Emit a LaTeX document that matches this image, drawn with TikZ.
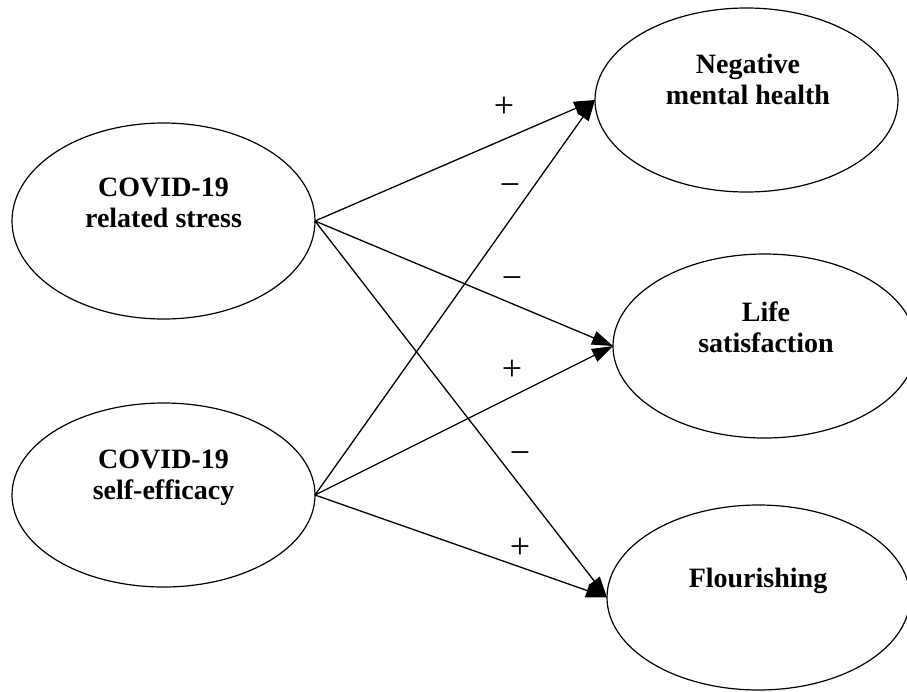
\documentclass[tikz,border=0pt]{standalone}
\usepackage{fontspec}
\setmainfont{Liberation Serif}
\usetikzlibrary{shapes.geometric,arrows.meta}
\begin{document}
\begin{tikzpicture}[x=1pt,y=-1pt,
  construct/.style={ellipse, draw, line width=1.2pt, minimum width=303pt,
    minimum height=184pt, inner sep=0pt, outer sep=0pt},
  ctext/.style={font=\fontsize{28}{31}\selectfont\bfseries, align=center, inner sep=0pt},
  link/.style={line width=1.3pt, -{Triangle[length=21pt,width=14pt]}},
  sign/.style={font=\fontsize{36}{36}\selectfont, inner sep=0pt}]
\useasboundingbox (0,0) rectangle (907,691);

% predictors
\node[construct, minimum height=196pt] (stress) at (163.5,221) {};
\node[construct] (efficacy) at (163.5,495) {};
% outcomes
\node[construct] (nmh) at (746.5,100) {};
\node[construct] (life) at (764.5,346) {};
\node[construct, minimum height=185pt] (flour) at (758.5,597.5) {};

% construct names, set in the upper part of each ellipse
\node[ctext] (stressT) at (163.5,202.5) {COVID-19\\related stress};
\node[ctext] (efficacyT) at (163.5,477.5) {COVID-19\\self-efficacy};
\node[ctext] (nmhT) at (748,79) {Negative\\mental health};
\node[ctext] (lifeT) at (766,327) {Life\\satisfaction};
\node[ctext] (flourT) at (758,580.5) {Flourishing};

% paths
\draw[link] (stress.east) -- (nmh.west);
\draw[link] (stress.east) -- (life.west);
\draw[link] (stress.east) -- (flour.west);
\draw[link] (efficacy.east) -- (nmh.west);
\draw[link] (efficacy.east) -- (life.west);
\draw[link] (efficacy.east) -- (flour.west);

% signs of the effects
\node[sign] (s1) at (504,107) {+};
\node[sign] (s2) at (510,190) {−};
\node[sign] (s3) at (512,283) {−};
\node[sign] (s4) at (512,370) {+};
\node[sign] (s5) at (520,458) {−};
\node[sign] (s6) at (520,548) {+};
\end{tikzpicture}
\end{document}
